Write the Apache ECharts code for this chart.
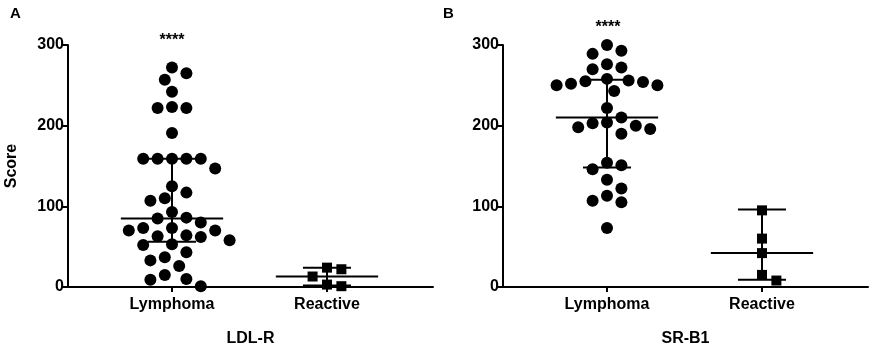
<!DOCTYPE html>
<html>
<head>
<meta charset="utf-8">
<script src="https://cdn.jsdelivr.net/npm/echarts@6/dist/echarts.min.js"></script>
<style>
html,body{margin:0;padding:0;background:#fff;}
#main{width:870px;height:352px;}
</style>
</head>
<body>
<div id="main"></div>
<script>
// groups and scores
var groups = ['Lymphoma', 'Reactive'];
var panelNames = ['LDL-R', 'SR-B1'];
var yTicks = [0, 100, 200, 300];
var ldlLymphoma = [272,265,257,242,223,222,222,191,159,159,159,159,159,147,125,117,110,107,93,86,85,80,73,73,70,70,64,63,62,58,53,52,43,37,33,26,15,10,9,1];
var ldlReactive = [24,22,13,3,1];
var srLymphoma = [300,293,289,276,272,270,258,256,255,254,252,250,250,243,222,210,204,203,200,198,196,190,154,151,146,133,122,113,107,105,73];
var srReactive = [95,60,42,15,8];
// median and interquartile range lines as drawn (Lymphoma, Reactive)
var ldlMedian = [85, 13];
var ldlQ1 = [56, 2];
var ldlQ3 = [159, 24];
var srMedian = [210, 42];
var srQ1 = [148, 9];
var srQ3 = [257, 96];
var stars = ['****', '****'];

var PX_X = 155;        // px per x unit
var PX_Y = 243 / 300;  // px per score unit
var DOT = 12;

// simple beeswarm: spread points sideways so dots don't overlap
function swarm(vals, center) {
    var sorted = vals.slice().sort(function (a, b) { return b - a; });
    var placed = [];
    for (var i = 0; i < sorted.length; i++) {
        var v = sorted[i];
        for (var k = 0; k < 40; k++) {
            var off = (k % 2 == 1 ? 1 : -1) * Math.ceil(k / 2) * 7.2;
            var ok = true;
            for (var j = 0; j < placed.length; j++) {
                var dx = placed[j][0] - off;
                var dy = (placed[j][1] - v) * PX_Y;
                if (Math.sqrt(dx * dx + dy * dy) < DOT + 1.5) { ok = false; break; }
            }
            if (ok) { placed.push([off, v]); break; }
        }
    }
    return placed.map(function (p) { return [center + p[0] / PX_X, p[1]]; });
}

function seg(idx, a, b) {
    return {
        type: 'line', xAxisIndex: idx, yAxisIndex: idx, data: [a, b],
        symbol: 'none', silent: true, z: 3,
        lineStyle: {color: '#000', width: 2}
    };
}

function statLines(idx, med, q1, q3, c) {
    return [
        seg(idx, [c - 0.33, med], [c + 0.33, med]),
        seg(idx, [c - 0.155, q1], [c + 0.155, q1]),
        seg(idx, [c - 0.155, q3], [c + 0.155, q3]),
        seg(idx, [c, q1], [c, q3])
    ];
}

var font = 'Liberation Sans, Arial, sans-serif';
var grids = [
    {left: 68, width: 365, top: 45, height: 243},
    {left: 503, width: 365, top: 45, height: 243}
];
var xAxes = [], yAxes = [];
for (var i = 0; i < 2; i++) {
    xAxes.push({
        gridIndex: i, type: 'value', min: 0.329, max: 2.684,
        name: panelNames[i], nameLocation: 'middle', nameGap: 44,
        nameTextStyle: {fontFamily: font, fontSize: 16, fontWeight: 'bold', color: '#000'},
        axisLine: {show: true, onZero: false, lineStyle: {color: '#000', width: 2}},
        axisTick: {show: true, customValues: [1, 2], length: 5, lineStyle: {color: '#000', width: 2}},
        axisLabel: {
            customValues: [1, 2], margin: 10,
            fontFamily: font, fontSize: 16, fontWeight: 'bold', color: '#000',
            formatter: function (v) { return groups[Math.round(v) - 1]; }
        },
        splitLine: {show: false}
    });
    yAxes.push({
        gridIndex: i, type: 'value', min: 0, max: 300, interval: 100,
        name: i == 0 ? 'Score' : '', nameLocation: 'middle', nameGap: 48, nameRotate: 90,
        nameTextStyle: {fontFamily: font, fontSize: 16, fontWeight: 'bold', color: '#000'},
        axisLine: {show: true, lineStyle: {color: '#000', width: 2}},
        axisTick: {show: true, length: 6, lineStyle: {color: '#000', width: 2}},
        axisLabel: {margin: 4, fontFamily: font, fontSize: 16, fontWeight: 'bold', color: '#000',
            customValues: yTicks},
        splitLine: {show: false}
    });
}

var dotStyle = {color: '#000', opacity: 1};
var series = [
    {type: 'scatter', xAxisIndex: 0, yAxisIndex: 0, data: swarm(ldlLymphoma, 1), symbol: 'circle', symbolSize: DOT, itemStyle: dotStyle, z: 2},
    {type: 'scatter', xAxisIndex: 0, yAxisIndex: 0, data: swarm(ldlReactive, 2), symbol: 'rect', symbolSize: 10, itemStyle: dotStyle, z: 2},
    {type: 'scatter', xAxisIndex: 1, yAxisIndex: 1, data: swarm(srLymphoma, 1), symbol: 'circle', symbolSize: DOT, itemStyle: dotStyle, z: 2},
    {type: 'scatter', xAxisIndex: 1, yAxisIndex: 1, data: swarm(srReactive, 2), symbol: 'rect', symbolSize: 10, itemStyle: dotStyle, z: 2}
];
for (var g = 0; g < 2; g++) {
    series = series.concat(statLines(0, ldlMedian[g], ldlQ1[g], ldlQ3[g], g + 1));
    series = series.concat(statLines(1, srMedian[g], srQ1[g], srQ3[g], g + 1));
}

var myChart = echarts.init(document.getElementById('main'));
myChart.setOption({
    animation: false,
    grid: grids,
    xAxis: xAxes,
    yAxis: yAxes,
    series: series,
    graphic: [
        {type: 'text', left: 10, top: 6, style: {text: 'A', font: 'bold 15px ' + font, fill: '#000'}},
        {type: 'text', left: 443, top: 6, style: {text: 'B', font: 'bold 15px ' + font, fill: '#000'}},
        {type: 'text', x: 172, y: 49, style: {text: stars[0], font: 'bold 16px ' + font, fill: '#000', align: 'center', verticalAlign: 'bottom'}},
        {type: 'text', x: 608, y: 36, style: {text: stars[1], font: 'bold 16px ' + font, fill: '#000', align: 'center', verticalAlign: 'bottom'}}
    ]
});
</script>
</body>
</html>
